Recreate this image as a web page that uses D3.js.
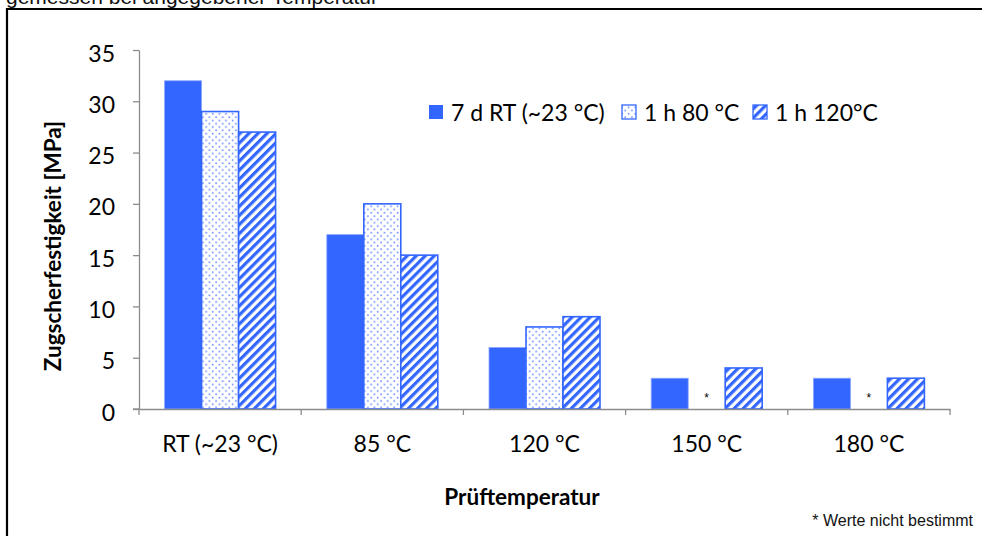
<!DOCTYPE html>
<html>
<head>
<meta charset="utf-8">
<script src="https://cdn.jsdelivr.net/npm/d3@7"></script>
<style>
  html, body { margin: 0; padding: 0; background: #fff; }
  svg { display: block; }
</style>
</head>
<body>
<script>
// Zugscherfestigkeit nach Aushärtung, gemessen bei verschiedenen Prüftemperaturen
const categories = ["RT (~23 °C)", "85 °C", "120 °C", "150 °C", "180 °C"];
const seriesNames = ["7 d RT (~23 °C)", "1 h 80 °C", "1 h 120°C"];
const cure7dRT   = [32, 17, 6, 3, 3];
const cure80C    = [29, 20, 8, null, null];
const cure120C   = [27, 15, 9, 4, 3];
const yTicks = [0, 5, 10, 15, 20, 25, 30, 35];
const captionText = "gemessen bei angegebener Temperatur";
const footnoteText = "* Werte nicht bestimmt";
const missingMark = "*";

const seriesValues = [cure7dRT, cure80C, cure120C];
const fills = ["solid", "dots", "hatch"];

const W = 982, H = 536;
const blue = "#3366ff";
const axisGrey = "#8c8c8c";
const labelFont = "Lato, 'Open Sans', sans-serif";
const labelSize = 23;

const svg = d3.select("body").append("svg").attr("width", W).attr("height", H);

// Fill patterns
const defs = svg.append("defs");
const dots = defs.append("pattern").attr("id", "dots")
  .attr("patternUnits", "userSpaceOnUse").attr("width", 6.6).attr("height", 6.6);
dots.append("rect").attr("width", 6.6).attr("height", 6.6).attr("fill", "#fff");
dots.append("circle").attr("cx", 1.6).attr("cy", 1.6).attr("r", 0.95).attr("fill", "#6d8fff");
dots.append("circle").attr("cx", 4.9).attr("cy", 4.9).attr("r", 0.95).attr("fill", "#6d8fff");

const hatch = defs.append("pattern").attr("id", "hatch")
  .attr("patternUnits", "userSpaceOnUse").attr("width", 6.4).attr("height", 6.4)
  .attr("patternTransform", "rotate(45)");
hatch.append("rect").attr("width", 6.4).attr("height", 6.4).attr("fill", "#fff");
hatch.append("rect").attr("width", 3.2).attr("height", 6.4).attr("fill", blue);

const fillOf = f => f === "solid" ? blue : f === "dots" ? "url(#dots)" : "url(#hatch)";

// Caption above the frame
svg.append("text").attr("x", 6).attr("y", 4)
  .attr("font-family", "Arial, 'Liberation Sans', sans-serif").attr("font-size", 21)
  .attr("fill", "#111").text(captionText);

// Frame (top and left edges)
svg.append("path").attr("d", `M7,${H} V9 H${W}`)
  .attr("fill", "none").attr("stroke", "#000").attr("stroke-width", 2.2);

// Scales
const x = d3.scaleBand().domain(categories).range([139, 950]).padding(0);
const inner = d3.scaleBand().domain(seriesNames).range([0, 111]);
const y = d3.scaleLinear().domain([0, 35]).range([409, 50]);
const groupOffset = (x.bandwidth() - 111) / 2;

// Y axis
const yAxis = svg.append("g").attr("transform", "translate(139,0)")
  .call(d3.axisLeft(y).tickValues(yTicks).tickSize(6).tickPadding(18).tickSizeOuter(0));
yAxis.select(".domain").attr("stroke", axisGrey).attr("stroke-width", 1.3);
yAxis.selectAll(".tick line").attr("stroke", axisGrey).attr("stroke-width", 1.3);
yAxis.selectAll(".tick text").attr("font-family", labelFont).attr("font-size", labelSize)
  .attr("fill", "#000").attr("dy", "0.48em");

// Bars
categories.forEach((c, ci) => {
  seriesValues.forEach((vals, si) => {
    const v = vals[ci];
    const bx = x(c) + groupOffset + inner(seriesNames[si]);
    if (v == null) {
      svg.append("text").attr("x", bx + inner.bandwidth() / 2).attr("y", y(0) - 7)
        .attr("text-anchor", "middle").attr("font-family", "Arial, sans-serif")
        .attr("font-size", 12).attr("fill", "#000").text(missingMark);
      return;
    }
    svg.append("rect")
      .attr("x", bx).attr("y", y(v))
      .attr("width", inner.bandwidth()).attr("height", y(0) - y(v))
      .attr("fill", fillOf(fills[si]))
      .attr("stroke", fills[si] === "solid" ? "#8aa6ff" : blue)
      .attr("stroke-width", fills[si] === "solid" ? 0.8 : 1.6);
  });
});

// X axis: labels centred in each category, ticks on category boundaries
const xAxis = svg.append("g").attr("transform", "translate(0,409)")
  .call(d3.axisBottom(x).tickSize(0).tickPadding(27));
xAxis.select(".domain").attr("stroke", axisGrey).attr("stroke-width", 1.3);
xAxis.selectAll(".tick text").attr("font-family", labelFont).attr("font-size", labelSize).attr("fill", "#000");
const bounds = categories.map(c => x(c)).concat([x.range()[1]]);
svg.append("g").selectAll("line").data(bounds).join("line")
  .attr("x1", d => d).attr("x2", d => d).attr("y1", 409).attr("y2", 415)
  .attr("stroke", axisGrey).attr("stroke-width", 1.3);
svg.append("line").attr("x1", 133).attr("x2", 139).attr("y1", 409).attr("y2", 409)
  .attr("stroke", axisGrey).attr("stroke-width", 1.3);

// Axis titles
svg.append("text").attr("transform", "translate(61,246) rotate(-90)")
  .attr("text-anchor", "middle").attr("font-family", labelFont).attr("font-weight", "bold")
  .attr("font-size", 22.5).attr("fill", "#000").text("Zugscherfestigkeit [MPa]");
svg.append("text").attr("x", 522).attr("y", 505)
  .attr("text-anchor", "middle").attr("font-family", labelFont).attr("font-weight", "bold")
  .attr("font-size", 22.5).attr("fill", "#000").text("Prüftemperatur");

// Legend
const legendX = [429, 622, 753];
const legend = svg.append("g");
seriesNames.forEach((s, i) => {
  legend.append("rect").attr("x", legendX[i]).attr("y", 105).attr("width", 14).attr("height", 14)
    .attr("fill", fillOf(fills[i]))
    .attr("stroke", fills[i] === "solid" ? "none" : blue).attr("stroke-width", 1.3);
  legend.append("text").attr("x", legendX[i] + 22).attr("y", 121)
    .attr("font-family", labelFont).attr("font-size", labelSize).attr("fill", "#000").text(s);
});

// Footnote
svg.append("text").attr("x", 973).attr("y", 526).attr("text-anchor", "end")
  .attr("font-family", "Arial, 'Liberation Sans', sans-serif").attr("font-size", 16)
  .attr("fill", "#111").text(footnoteText);
</script>
</body>
</html>
